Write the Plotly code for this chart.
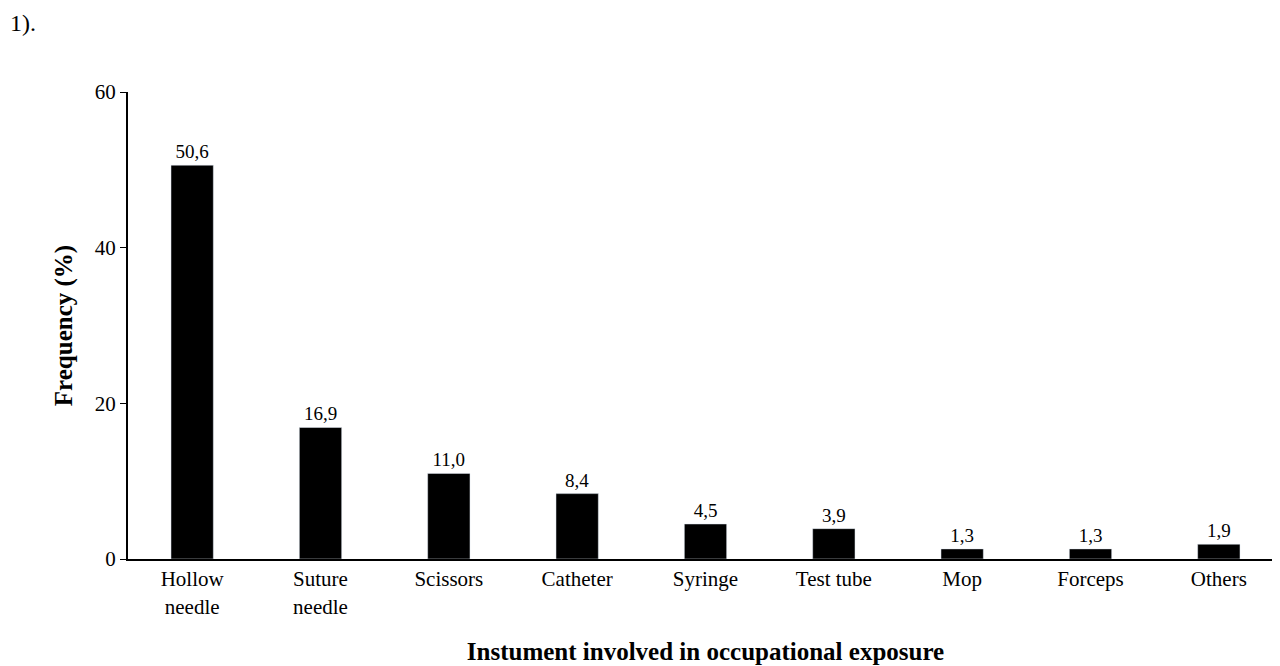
import plotly.graph_objects as go

categories = ['Hollow<br>needle', 'Suture<br>needle', 'Scissors', 'Catheter', 'Syringe',
              'Test tube', 'Mop', 'Forceps', 'Others']
values = [50.6, 16.9, 11.0, 8.4, 4.5, 3.9, 1.3, 1.3, 1.9]
labels = [f'{v:.1f}'.replace('.', ',') for v in values]

fig = go.Figure()
fig.add_trace(go.Bar(x=categories, y=values, marker_color='black',
                     text=labels, textposition='outside', cliponaxis=False,
                     textfont=dict(size=19, color='black')))

fig.update_layout(
    width=1280, height=666, plot_bgcolor='white', paper_bgcolor='white',
    font=dict(family='Liberation Serif', size=21, color='black'),
    margin=dict(l=120, r=5, t=84, b=115),
    bargap=0.67, showlegend=False,
)
fig.update_yaxes(range=[0, 60], tickvals=[0, 20, 40, 60], showgrid=False,
                 showline=True, linecolor='black', linewidth=2,
                 ticks='outside', ticklen=6, tickcolor='black',
                 title=dict(text='<b>Frequency (%)</b>', standoff=15))
fig.update_xaxes(showline=True, linecolor='black', linewidth=2, ticks='',
                 title=dict(text='<b>Instument involved in occupational exposure</b>', standoff=25))
fig.add_annotation(text='1).', x=0, y=1, xref='paper', yref='paper', xanchor='left', yanchor='top',
                   xshift=-120, yshift=84, showarrow=False, font=dict(size=24))

fig.write_html('out.html')
